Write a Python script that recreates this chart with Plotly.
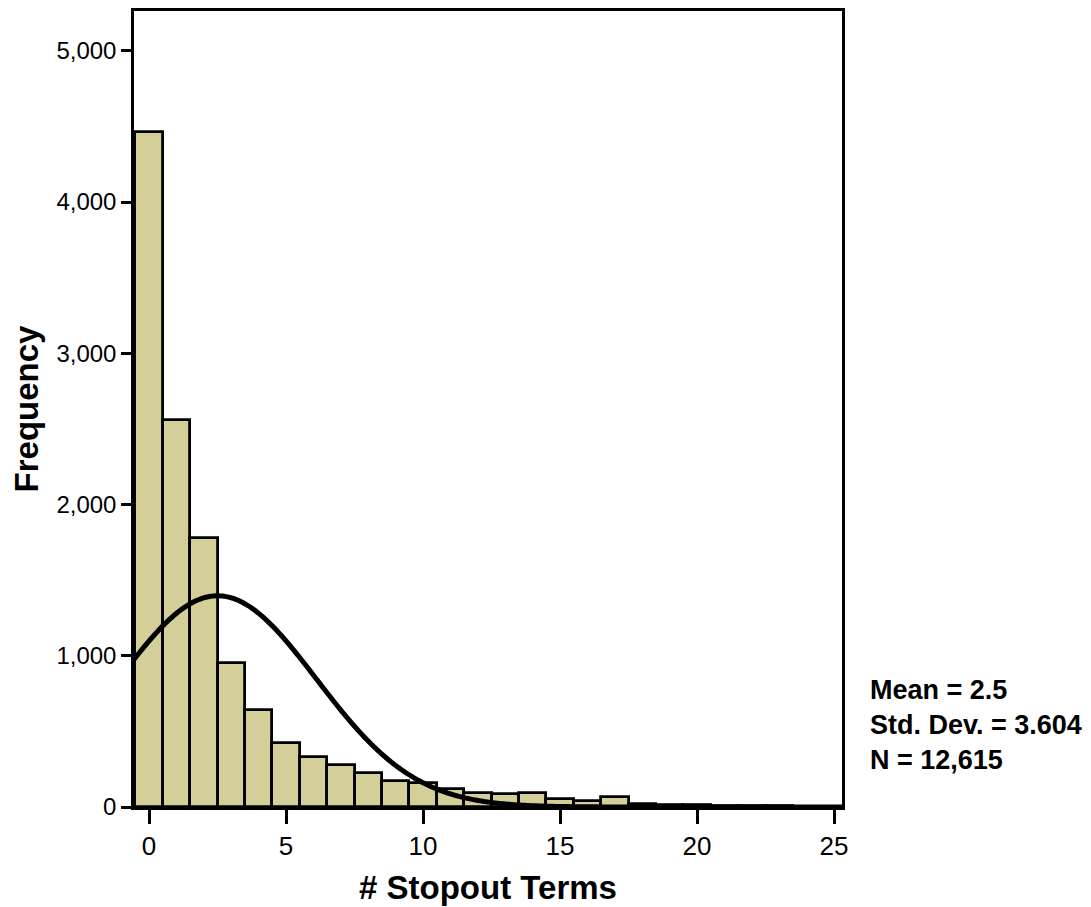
import numpy as np
import plotly.graph_objects as go

# Histogram data (bin centres and counts)
bin_centers = list(range(0, 26))
counts = [4460, 2556, 1779, 955, 639, 424, 331, 277, 222, 170,
          160, 118, 90, 83, 90, 56, 42, 63, 20, 15,
          12, 8, 5, 4, 3, 2]

MEAN = 2.5
STD = 3.604
N = 12615
BIN_WIDTH = 1.0

x_ticks = [0, 5, 10, 15, 20, 25]
y_ticks = [0, 1000, 2000, 3000, 4000, 5000]

x_range = [-0.55, 25.29]
y_range = [0, 5263]

fig = go.Figure()
fig.add_trace(go.Bar(
    x=bin_centers, y=counts, width=BIN_WIDTH,
    marker=dict(color="#D4CF99", line=dict(color="black", width=2.8)),
    hoverinfo="x+y", showlegend=False,
))

xs = np.linspace(x_range[0], x_range[1], 600)
ys = N * BIN_WIDTH / (STD * np.sqrt(2 * np.pi)) * np.exp(-0.5 * ((xs - MEAN) / STD) ** 2)
fig.add_trace(go.Scatter(x=xs, y=ys, mode="lines",
                         line=dict(color="black", width=5, simplify=False),
                         showlegend=False, hoverinfo="skip"))

font_family = "Liberation Sans, Arial, sans-serif"

fig.update_layout(
    width=1083, height=899,
    margin=dict(l=126, r=249, t=0, b=100),
    paper_bgcolor="white", plot_bgcolor="white",
    font=dict(family=font_family, color="black"),
    bargap=0,
    xaxis=dict(range=x_range, tickvals=x_ticks, ticks="outside", ticklen=14,
               tickwidth=2.5, tickcolor="black", showgrid=False, zeroline=False,
               showline=True, linecolor="black", linewidth=2.5, mirror=True,
               tickfont=dict(size=26, family=font_family),
               title=dict(text="<b># Stopout Terms</b>", font=dict(size=33), standoff=16)),
    yaxis=dict(range=y_range, tickvals=y_ticks, tickformat=",", ticks="outside",
               ticklen=10, tickwidth=2.5, tickcolor="black", showgrid=False,
               zeroline=False, showline=True, linecolor="black", linewidth=2.5,
               mirror=True, tickfont=dict(size=24, family=font_family),
               title=dict(text="<b>Frequency</b>", font=dict(size=33), standoff=8)),
)

fig.add_annotation(
    xref="paper", yref="paper", x=1.037, y=0.168, xanchor="left", yanchor="top",
    align="left", showarrow=False,
    text=f"<b>Mean = {MEAN}<br>Std. Dev. = {STD}<br>N = {N:,}</b>",
    font=dict(size=27, family=font_family, color="black"),
)

fig.write_html("out.html")
